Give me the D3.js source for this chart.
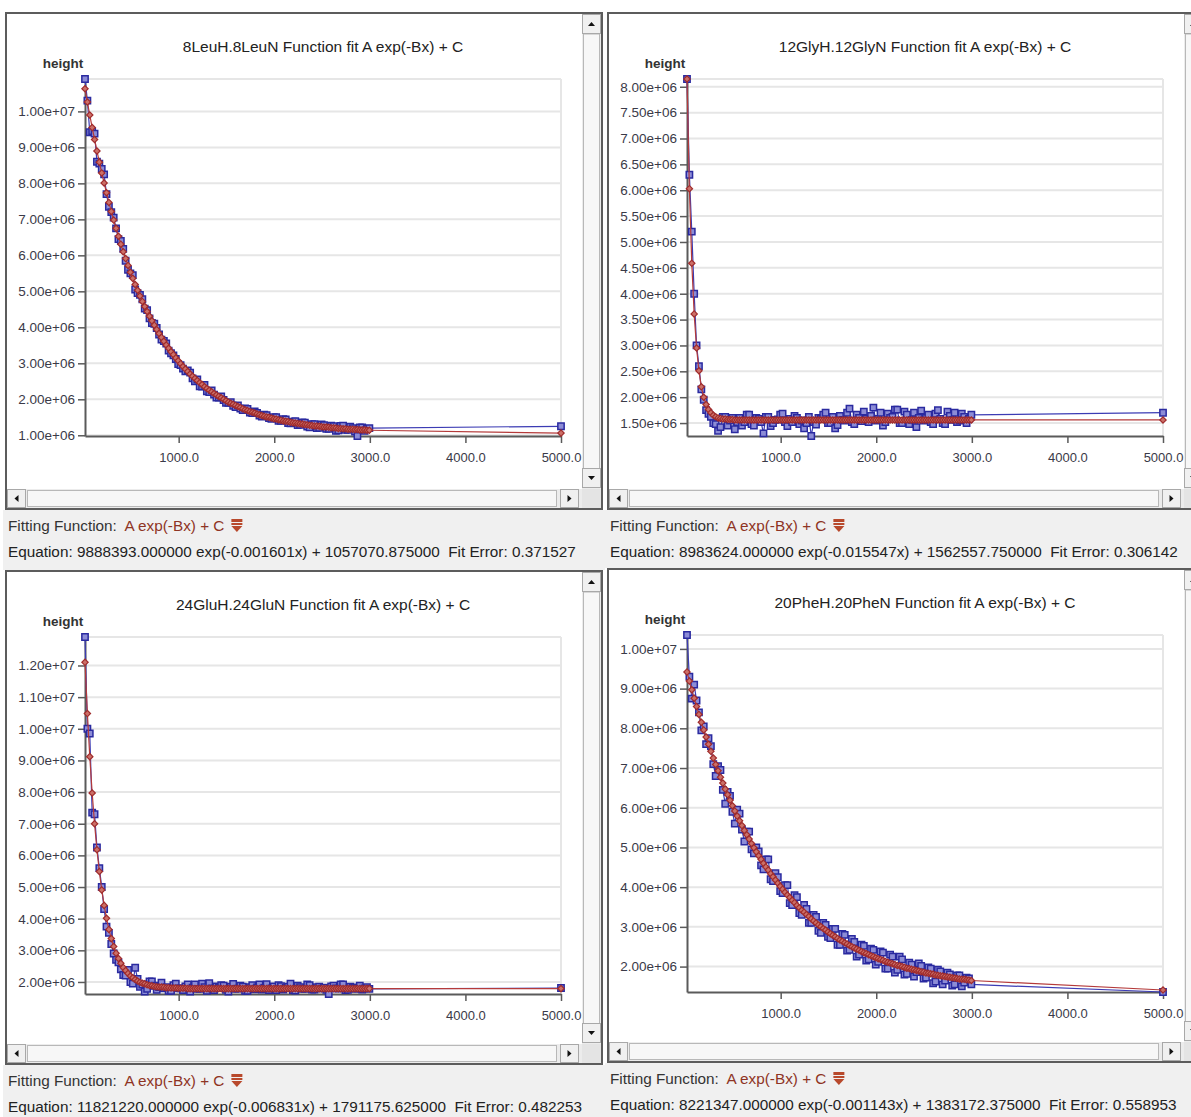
<!DOCTYPE html>
<html>
<head>
<meta charset="utf-8">
<script src="https://cdn.jsdelivr.net/npm/d3@7"></script>
<style>
  body { margin: 0; background: #fff; }
  svg { display: block; font-family: "Liberation Sans", Arial, sans-serif; }
</style>
</head>
<body>
<svg id="chart" width="1191" height="1117"></svg>
<script>
// heights are stored in millions
var MEGA = 1e6;

// relaxation delays (x values), shared by all four fits
var delays = [20,45,70,95,120,145,170,195,220,245,270,295,320,345,370,395,420,445,470,495,
  520,545,570,595,620,645,670,695,720,745,770,795,820,845,870,895,920,945,970,995,
  1020,1045,1070,1095,1120,1145,1170,1195,1220,1245,1270,1295,1320,1345,1370,1395,1420,1445,1470,1495,
  1520,1545,1570,1595,1620,1645,1670,1695,1720,1745,1770,1795,1820,1845,1870,1895,1920,1945,1970,1995,
  2020,2045,2070,2095,2120,2145,2170,2195,2220,2245,2270,2295,2320,2345,2370,2395,2420,2445,2470,2495,
  2520,2545,2570,2595,2620,2645,2670,2695,2720,2745,2770,2795,2820,2845,2870,2895,2920,2945,2970,2995,
  5000];

// 8LeuH.8LeuN
var leuHeight = [10.90,10.30,9.42,9.45,9.38,8.60,8.55,8.40,8.25,7.70,7.35,7.20,7.05,6.75,6.45,6.40,6.18,5.85,5.60,5.50,
  5.45,5.05,4.95,4.90,4.78,4.52,4.48,4.25,4.12,4.10,3.98,3.80,3.66,3.62,3.55,3.35,3.28,3.22,3.12,2.98,
  2.95,2.85,2.78,2.80,2.74,2.58,2.50,2.55,2.36,2.35,2.40,2.22,2.20,2.25,2.13,2.05,2.05,2.08,1.98,1.90,
  1.90,1.92,1.82,1.78,1.83,1.74,1.70,1.75,1.73,1.63,1.62,1.66,1.62,1.55,1.52,1.57,1.56,1.48,1.46,1.50,
  1.50,1.40,1.40,1.45,1.44,1.34,1.33,1.38,1.39,1.28,1.29,1.36,1.35,1.24,1.22,1.31,1.31,1.20,1.21,1.30,
  1.28,1.18,1.18,1.27,1.25,1.12,1.14,1.26,1.27,1.15,1.15,1.24,1.20,1.10,0.98,1.22,1.22,1.12,1.18,1.20,
  1.25];
var leuFit = [10.63,10.26,9.90,9.55,9.22,8.90,8.59,8.29,8.01,7.74,7.47,7.22,6.98,6.75,6.53,6.31,6.10,5.91,5.72,5.53,
  5.36,5.19,5.03,4.87,4.72,4.58,4.44,4.31,4.18,4.06,3.94,3.83,3.72,3.61,3.51,3.42,3.32,3.24,3.15,3.07,
  2.99,2.91,2.84,2.77,2.70,2.64,2.58,2.52,2.46,2.41,2.35,2.30,2.25,2.21,2.16,2.12,2.08,2.04,2.00,1.96,
  1.92,1.89,1.86,1.83,1.80,1.77,1.74,1.71,1.69,1.66,1.64,1.62,1.59,1.57,1.55,1.53,1.51,1.50,1.48,1.46,
  1.45,1.43,1.42,1.40,1.39,1.38,1.36,1.35,1.34,1.33,1.32,1.31,1.30,1.29,1.28,1.27,1.26,1.26,1.25,1.24,
  1.23,1.23,1.22,1.21,1.21,1.20,1.19,1.19,1.18,1.18,1.17,1.17,1.17,1.16,1.16,1.15,1.15,1.15,1.14,1.14,
  1.06];
var leuTicks = [1,2,3,4,5,6,7,8,9,10];

// 12GlyH.12GlyN
var glyHeight = [8.15,6.30,5.20,4.00,3.00,2.60,2.15,1.95,1.75,1.68,1.62,1.50,1.48,1.35,1.42,1.62,1.62,1.45,1.55,1.60,
  1.38,1.52,1.60,1.45,1.52,1.66,1.66,1.48,1.45,1.60,1.58,1.52,1.30,1.62,1.62,1.44,1.50,1.56,1.57,1.66,
  1.68,1.52,1.44,1.58,1.52,1.64,1.60,1.48,1.55,1.40,1.50,1.62,1.25,1.52,1.47,1.60,1.58,1.66,1.70,1.50,
  1.50,1.62,1.40,1.46,1.64,1.56,1.55,1.70,1.78,1.52,1.48,1.66,1.60,1.54,1.72,1.58,1.52,1.64,1.80,1.55,
  1.58,1.70,1.45,1.52,1.68,1.60,1.62,1.76,1.76,1.50,1.50,1.72,1.66,1.48,1.56,1.70,1.42,1.60,1.74,1.55,
  1.60,1.66,1.52,1.48,1.68,1.75,1.58,1.50,1.48,1.72,1.64,1.56,1.70,1.52,1.55,1.68,1.62,1.50,1.58,1.66,
  1.70];
var glyFit = [8.15,6.03,4.59,3.61,2.95,2.51,2.20,2.00,1.86,1.76,1.70,1.65,1.62,1.60,1.59,1.58,1.58,1.57,1.57,1.57,
  1.56,1.56,1.56,1.56,1.56,1.56,1.56,1.56,1.56,1.56,1.56,1.56,1.56,1.56,1.56,1.56,1.56,1.56,1.56,1.56,
  1.56,1.56,1.56,1.56,1.56,1.56,1.56,1.56,1.56,1.56,1.56,1.56,1.56,1.56,1.56,1.56,1.56,1.56,1.56,1.56,
  1.56,1.56,1.56,1.56,1.56,1.56,1.56,1.56,1.56,1.56,1.56,1.56,1.56,1.56,1.56,1.56,1.56,1.56,1.56,1.56,
  1.56,1.56,1.56,1.56,1.56,1.56,1.56,1.56,1.56,1.56,1.56,1.56,1.56,1.56,1.56,1.56,1.56,1.56,1.56,1.56,
  1.56,1.56,1.56,1.56,1.56,1.56,1.56,1.56,1.56,1.56,1.56,1.56,1.56,1.56,1.56,1.56,1.56,1.56,1.56,1.56,
  1.56];
var glyTicks = [1.5,2,2.5,3,3.5,4,4.5,5,5.5,6,6.5,7,7.5,8];

// 24GluH.24GluN
var gluHeight = [12.90,10.00,9.85,7.35,7.30,6.25,5.60,5.00,4.30,3.75,3.55,3.20,2.90,2.70,2.62,2.40,2.22,2.20,2.38,2.00,
  1.95,2.45,2.10,1.85,1.92,1.70,1.78,2.02,2.02,1.88,1.75,1.84,1.98,1.80,1.84,1.72,1.72,1.90,1.95,1.80,
  1.80,1.74,1.86,1.92,1.70,1.82,1.92,1.78,1.78,1.95,1.84,1.72,1.96,1.80,1.74,1.86,1.82,1.90,1.88,1.75,
  1.70,1.85,1.94,1.78,1.79,1.88,1.85,1.72,1.72,1.84,1.90,1.77,1.83,1.92,1.76,1.81,1.93,1.74,1.80,1.86,
  1.74,1.90,1.87,1.76,1.81,1.85,1.95,1.74,1.73,1.88,1.84,1.78,1.78,1.92,1.90,1.76,1.76,1.84,1.85,1.79,
  1.82,1.75,1.62,1.86,1.88,1.80,1.79,1.92,1.92,1.74,1.75,1.85,1.83,1.78,1.80,1.88,1.76,1.80,1.84,1.78,
  1.81];
var gluFit = [12.10,10.48,9.12,7.97,7.00,6.18,5.49,4.91,4.42,4.01,3.66,3.37,3.12,2.91,2.74,2.59,2.46,2.36,2.27,2.19,
  2.13,2.08,2.03,1.99,1.96,1.94,1.91,1.89,1.88,1.86,1.85,1.84,1.84,1.83,1.82,1.82,1.81,1.81,1.81,1.80,
  1.80,1.80,1.80,1.79,1.79,1.79,1.79,1.79,1.79,1.79,1.79,1.79,1.79,1.79,1.79,1.79,1.79,1.79,1.79,1.79,
  1.79,1.79,1.79,1.79,1.79,1.79,1.79,1.79,1.79,1.79,1.79,1.79,1.79,1.79,1.79,1.79,1.79,1.79,1.79,1.79,
  1.79,1.79,1.79,1.79,1.79,1.79,1.79,1.79,1.79,1.79,1.79,1.79,1.79,1.79,1.79,1.79,1.79,1.79,1.79,1.79,
  1.79,1.79,1.79,1.79,1.79,1.79,1.79,1.79,1.79,1.79,1.79,1.79,1.79,1.79,1.79,1.79,1.79,1.79,1.79,1.79,
  1.79];
var gluTicks = [2,3,4,5,6,7,8,9,10,11,12];

// 20PheH.20PheN
var pheHeight = [10.35,9.30,8.75,9.10,8.70,8.40,7.95,8.05,7.60,7.75,7.55,7.10,6.80,7.05,6.95,6.45,6.10,6.40,6.30,5.90,
  5.60,5.95,5.85,5.45,5.15,5.40,5.40,4.95,4.85,5.00,4.90,4.55,4.45,4.70,4.70,4.20,4.15,4.35,4.25,3.90,
  3.85,4.05,4.05,3.60,3.55,3.80,3.75,3.35,3.30,3.55,3.45,3.10,3.10,3.30,3.25,2.90,2.85,3.10,3.05,2.75,
  2.72,2.95,2.95,2.55,2.55,2.82,2.80,2.40,2.42,2.70,2.62,2.25,2.30,2.55,2.52,2.15,2.18,2.45,2.42,2.05,
  2.12,2.38,2.35,1.95,1.95,2.30,2.25,1.85,1.92,2.25,2.18,1.80,1.82,2.10,2.05,1.75,1.86,2.08,2.02,1.70,
  1.72,1.98,1.95,1.58,1.62,1.92,1.88,1.55,1.65,1.85,1.80,1.52,1.55,1.78,1.78,1.50,1.60,1.72,1.70,1.55,
  1.36];
var pheFit = [9.42,9.19,8.97,8.76,8.55,8.35,8.15,7.96,7.78,7.60,7.42,7.25,7.09,6.93,6.77,6.62,6.47,6.33,6.19,6.05,
  5.92,5.79,5.67,5.55,5.43,5.32,5.21,5.10,4.99,4.89,4.79,4.70,4.60,4.51,4.43,4.34,4.26,4.18,4.10,4.02,
  3.95,3.87,3.80,3.74,3.67,3.61,3.54,3.48,3.42,3.37,3.31,3.26,3.20,3.15,3.10,3.05,3.01,2.96,2.92,2.87,
  2.83,2.79,2.75,2.71,2.67,2.64,2.60,2.57,2.53,2.50,2.47,2.44,2.41,2.38,2.35,2.33,2.30,2.27,2.25,2.22,
  2.20,2.18,2.16,2.13,2.11,2.09,2.07,2.05,2.03,2.02,2.00,1.98,1.96,1.95,1.93,1.92,1.90,1.89,1.87,1.86,
  1.84,1.83,1.82,1.81,1.79,1.78,1.77,1.76,1.75,1.74,1.73,1.72,1.71,1.70,1.69,1.68,1.68,1.67,1.66,1.65,
  1.41];
var pheTicks = [2,3,4,5,6,7,8,9,10];

var xTicks = [1000, 2000, 3000, 4000, 5000];
var fitName = "A exp(-Bx) + C";

var panels = [
  { name: "8LeuH.8LeuN", height: leuHeight, fit: leuFit, ticks: leuTicks,
    equation: "Equation: 9888393.000000 exp(-0.001601x) + 1057070.875000  Fit Error: 0.371527" },
  { name: "12GlyH.12GlyN", height: glyHeight, fit: glyFit, ticks: glyTicks,
    equation: "Equation: 8983624.000000 exp(-0.015547x) + 1562557.750000  Fit Error: 0.306142" },
  { name: "24GluH.24GluN", height: gluHeight, fit: gluFit, ticks: gluTicks,
    equation: "Equation: 11821220.000000 exp(-0.006831x) + 1791175.625000  Fit Error: 0.482253" },
  { name: "20PheH.20PheN", height: pheHeight, fit: pheFit, ticks: pheTicks,
    equation: "Equation: 8221347.000000 exp(-0.001143x) + 1383172.375000  Fit Error: 0.558953" }
];

// window boxes of the four panels
var boxes = [
  { left: 5,   top: 12,  right: 603,  scrollBottom: 510,  infoBottom: 570 },
  { left: 607, top: 12,  right: 1205, scrollBottom: 510,  infoBottom: 568 },
  { left: 5,   top: 570, right: 603,  scrollBottom: 1065, infoBottom: 1117 },
  { left: 607, top: 568, right: 1205, scrollBottom: 1063, infoBottom: 1117 }
];

var svg = d3.select("#chart");
svg.append("rect").attr("width", 1191).attr("height", 1117).attr("fill", "#fff");

var fmtExp = function(v) {
  return v.toExponential(2).replace(/e([+-])(\d)$/, "e$10$2");
};

function tri(cx, cy, dir) {
  // small black arrow glyph for scroll buttons
  var s = 3.5;
  if (dir == "up") return "M" + (cx - s) + "," + (cy + 2) + "L" + (cx + s) + "," + (cy + 2) + "L" + cx + "," + (cy - 2) + "Z";
  if (dir == "down") return "M" + (cx - s) + "," + (cy - 2) + "L" + (cx + s) + "," + (cy - 2) + "L" + cx + "," + (cy + 2) + "Z";
  if (dir == "left") return "M" + (cx + 2) + "," + (cy - s) + "L" + (cx + 2) + "," + (cy + s) + "L" + (cx - 2) + "," + cy + "Z";
  return "M" + (cx - 2) + "," + (cy - s) + "L" + (cx - 2) + "," + (cy + s) + "L" + (cx + 2) + "," + cy + "Z";
}

function button(g, x, y, w, h, dir) {
  g.append("rect").attr("x", x).attr("y", y).attr("width", w).attr("height", h)
    .attr("fill", "#f0f0f0").attr("stroke", "#a8a8a8").attr("stroke-width", 1);
  g.append("path").attr("d", tri(x + w / 2, y + h / 2, dir)).attr("fill", "#111");
}

function drawPanel(p, box) {
  var g = svg.append("g");

  // grey info strip below the window
  g.append("rect")
    .attr("x", box.left - 2).attr("y", box.scrollBottom)
    .attr("width", box.right - box.left + 4).attr("height", box.infoBottom - box.scrollBottom)
    .attr("fill", "#f0f0f0");

  // window frame
  g.append("rect")
    .attr("x", box.left + 1).attr("y", box.top + 1)
    .attr("width", box.right - box.left - 2).attr("height", box.scrollBottom - box.top - 2)
    .attr("fill", "#fff").attr("stroke", "#5c5c5c").attr("stroke-width", 2);

  // vertical scroll bar
  var vx = box.right - 21;
  g.append("rect").attr("x", vx).attr("y", box.top + 2).attr("width", 19).attr("height", box.scrollBottom - box.top - 23)
    .attr("fill", "#ececec");
  g.append("rect").attr("x", vx + 1.5).attr("y", box.top + 22).attr("width", 16).attr("height", box.scrollBottom - box.top - 63)
    .attr("fill", "#f7f7f7").attr("stroke", "#b8b8b8");
  button(g, vx + 0.5, box.top + 2.5, 18, 19, "up");
  button(g, vx + 0.5, box.scrollBottom - 41.5, 18, 19, "down");

  // horizontal scroll bar
  var hy = box.scrollBottom - 21;
  g.append("rect").attr("x", box.left + 2).attr("y", hy).attr("width", box.right - box.left - 23).attr("height", 19)
    .attr("fill", "#ececec");
  g.append("rect").attr("x", box.left + 22.5).attr("y", hy + 1.5).attr("width", box.right - box.left - 69).attr("height", 16)
    .attr("fill", "#f7f7f7").attr("stroke", "#b8b8b8");
  button(g, box.left + 2.5, hy + 0.5, 18, 18, "left");
  button(g, box.right - 42.5, hy + 0.5, 18, 18, "right");
  g.append("rect").attr("x", vx).attr("y", hy).attr("width", 19).attr("height", 19).attr("fill", "#e4e4e4");

  // scales
  var x = d3.scaleLinear().domain(d3.extent(delays)).range([box.left + 80, box.left + 556]);
  var allValues = p.height.concat(p.fit).map(function(v) { return v * MEGA; });
  var y = d3.scaleLinear().domain(d3.extent(allValues)).range([box.top + 424, box.top + 67]);

  // grid
  var gridValues = p.ticks.map(function(t) { return t * MEGA; }).concat([y.domain()[1]]);
  g.append("g").selectAll("line").data(gridValues).enter().append("line")
    .attr("x1", x.range()[0]).attr("x2", x.range()[1])
    .attr("y1", function(d) { return y(d); }).attr("y2", function(d) { return y(d); })
    .attr("stroke", "#e6e6e6").attr("stroke-width", 2);
  g.append("line")
    .attr("x1", x(5000)).attr("x2", x(5000)).attr("y1", y.range()[1]).attr("y2", y.range()[0])
    .attr("stroke", "#e6e6e6").attr("stroke-width", 2);

  // axes
  var yAxis = d3.axisLeft(y)
    .tickValues(p.ticks.map(function(t) { return t * MEGA; }))
    .tickSize(7).tickSizeOuter(0).tickPadding(3)
    .tickFormat(fmtExp);
  var xAxis = d3.axisBottom(x)
    .tickValues(xTicks).tickSize(7).tickSizeOuter(0).tickPadding(10)
    .tickFormat(d3.format(".1f"));

  var ya = g.append("g").attr("transform", "translate(" + x.range()[0] + ",0)").call(yAxis);
  var xa = g.append("g").attr("transform", "translate(0," + y.range()[0] + ")").call(xAxis);
  [ya, xa].forEach(function(a) {
    a.select(".domain").attr("stroke", "#5a5a5a").attr("stroke-width", 2);
    a.selectAll(".tick line").attr("stroke", "#5a5a5a").attr("stroke-width", 1.5);
    a.selectAll(".tick text").attr("fill", "#3a3a48").attr("font-family", "Liberation Sans, Arial, sans-serif");
  });
  ya.selectAll(".tick text").attr("font-size", 13.5);
  xa.selectAll(".tick text").attr("font-size", 13);

  // series
  var pts = delays.map(function(d, i) {
    return { x: d, h: p.height[i] * MEGA, f: p.fit[i] * MEGA };
  });
  var hLine = d3.line().x(function(d) { return x(d.x); }).y(function(d) { return y(d.h); });
  var fLine = d3.line().x(function(d) { return x(d.x); }).y(function(d) { return y(d.f); });

  g.append("path").datum(pts).attr("d", hLine)
    .attr("fill", "none").attr("stroke", "#3c3cb4").attr("stroke-width", 1.2);
  g.append("g").selectAll("path").data(pts).enter().append("path")
    .attr("d", d3.symbol(d3.symbolSquare, 40))
    .attr("transform", function(d) { return "translate(" + x(d.x) + "," + y(d.h) + ")"; })
    .attr("fill", "#8c8cd6").attr("stroke", "#2a2aa0").attr("stroke-width", 1.5);

  g.append("path").datum(pts).attr("d", fLine)
    .attr("fill", "none").attr("stroke", "#b43a3a").attr("stroke-width", 1.2);
  g.append("g").selectAll("path").data(pts).enter().append("path")
    .attr("d", d3.symbol(d3.symbolSquare, 20))
    .attr("transform", function(d) { return "translate(" + x(d.x) + "," + y(d.f) + ") rotate(45)"; })
    .attr("fill", "#cc7068").attr("stroke", "#a02c2c").attr("stroke-width", 1.2);

  // title and y label
  g.append("text")
    .attr("x", (x.range()[0] + x.range()[1]) / 2).attr("y", box.top + 40)
    .attr("text-anchor", "middle").attr("font-size", 15.5).attr("fill", "#222")
    .text(p.name + " Function fit " + fitName);
  g.append("text")
    .attr("x", box.left + 58).attr("y", box.top + 56)
    .attr("text-anchor", "middle").attr("font-size", 13.5).attr("font-weight", "bold").attr("fill", "#333")
    .text("height");

  // info strip
  var info = g.append("text")
    .attr("x", box.left + 3).attr("y", box.scrollBottom + 21)
    .attr("font-size", 15.3).style("white-space", "pre");
  info.append("tspan").attr("fill", "#333").text("Fitting Function:  ");
  info.append("tspan").attr("fill", "#8e3424").text(fitName);
  var bb = info.node().getBBox();
  var ix = bb.x + bb.width + 7, iy = box.scrollBottom + 9;
  g.append("rect").attr("x", ix).attr("y", iy).attr("width", 11).attr("height", 3).attr("fill", "#b8492c");
  g.append("rect").attr("x", ix).attr("y", iy + 4).attr("width", 11).attr("height", 2).attr("fill", "#b8492c");
  g.append("path").attr("d", "M" + ix + "," + (iy + 7) + "L" + (ix + 11) + "," + (iy + 7) + "L" + (ix + 5.5) + "," + (iy + 13) + "Z")
    .attr("fill", "#b8492c");

  g.append("text")
    .attr("x", box.left + 3).attr("y", box.scrollBottom + 47)
    .attr("font-size", 15.3).attr("fill", "#222").style("white-space", "pre")
    .text(p.equation);
}

panels.forEach(function(p, i) { drawPanel(p, boxes[i]); });
</script>
</body>
</html>
